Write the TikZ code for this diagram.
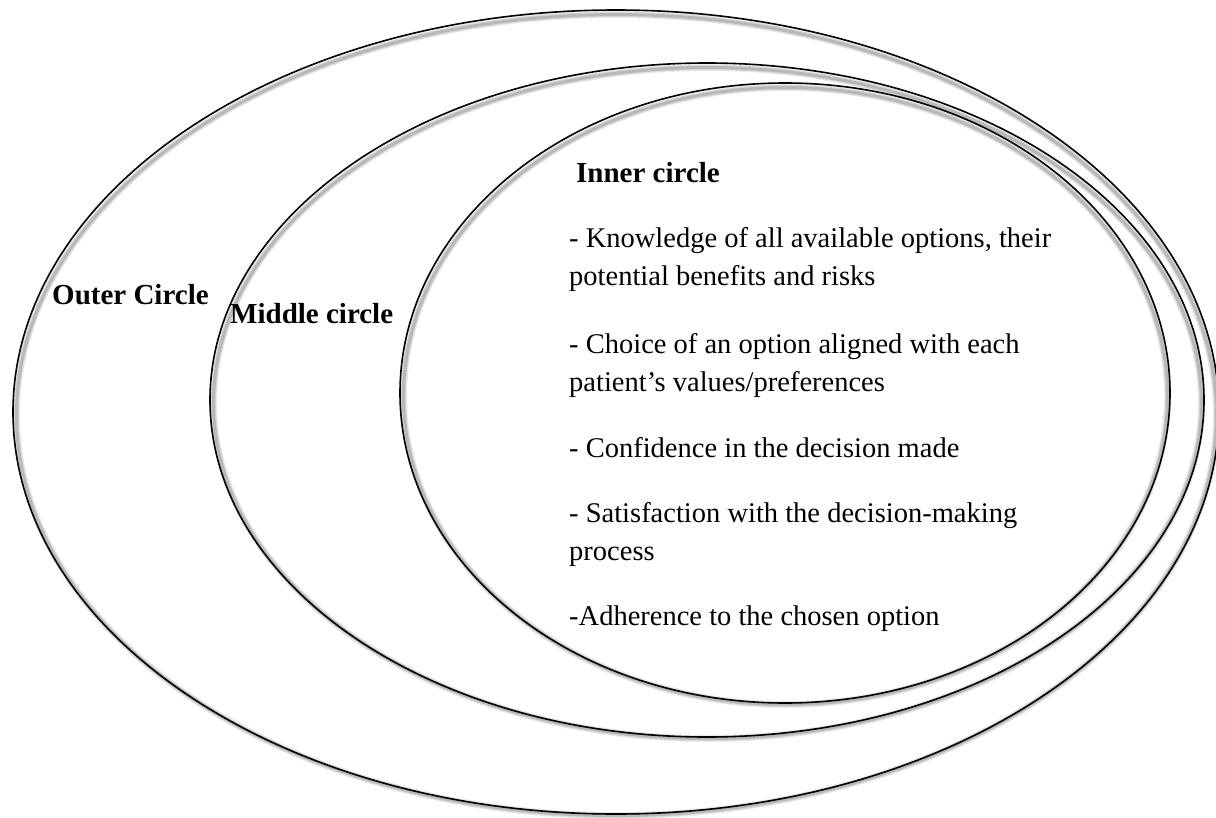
\documentclass[tikz,border=0pt]{standalone}
\usepackage{fontspec}
\setmainfont{Liberation Serif}
\tikzset{
  ring/.style={draw=black, line width=1.6pt},
  shadowA/.style={draw=black!8, line width=7pt},
  shadowB/.style={draw=black!16, line width=5pt},
  shadowC/.style={draw=black!28, line width=3pt},
  lbl/.style={anchor=base west, inner sep=0pt, font=\fontsize{29}{38}\selectfont\bfseries},
  item/.style={anchor=base west, inner sep=0pt, font=\fontsize{28.5}{38}\selectfont}
}
\begin{document}
\begin{tikzpicture}[x=1pt,y=-1pt]
\fill[white] (0,0) rectangle (1216,817);
\useasboundingbox (0,0) rectangle (1216,817);
\begin{scope}
\clip (0,0) rectangle (1216,817);
% shadows, then rings: outer, middle, inner
\foreach \cx/\cy/\rx/\ry in {616/412/603/402, 707/400/497/337, 785/393/385/310}{
  \draw[shadowA] (\cx+0.5,\cy+3) ellipse [x radius=\rx pt-3pt, y radius=\ry pt-1.5pt];
  \draw[shadowB] (\cx+0.5,\cy+3) ellipse [x radius=\rx pt-3pt, y radius=\ry pt-1.5pt];
  \draw[shadowC] (\cx+0.5,\cy+3) ellipse [x radius=\rx pt-3pt, y radius=\ry pt-1.5pt];
  \draw[ring] (\cx,\cy) ellipse [x radius=\rx pt, y radius=\ry pt];
}
\end{scope}
\node[lbl] (outer) at (52,304) {Outer Circle};
\node[lbl] (middle) at (230,323) {Middle circle};
\node[lbl] (inner) at (576,182) {Inner circle};
\node[item] (k1) at (569,247) {- Knowledge of all available options, their};
\node[item] (k2) at (569,285) {potential benefits and risks};
\node[item] (c1) at (569,353) {- Choice of an option aligned with each};
\node[item] (c2) at (569,391) {patient’s values/preferences};
\node[item] (cf) at (569,457) {- Confidence in the decision made};
\node[item] (s1) at (569,522) {- Satisfaction with the decision-making};
\node[item] (s2) at (569,560) {process};
\node[item] (ad) at (569,625) {-Adherence to the chosen option};
\end{tikzpicture}
\end{document}
